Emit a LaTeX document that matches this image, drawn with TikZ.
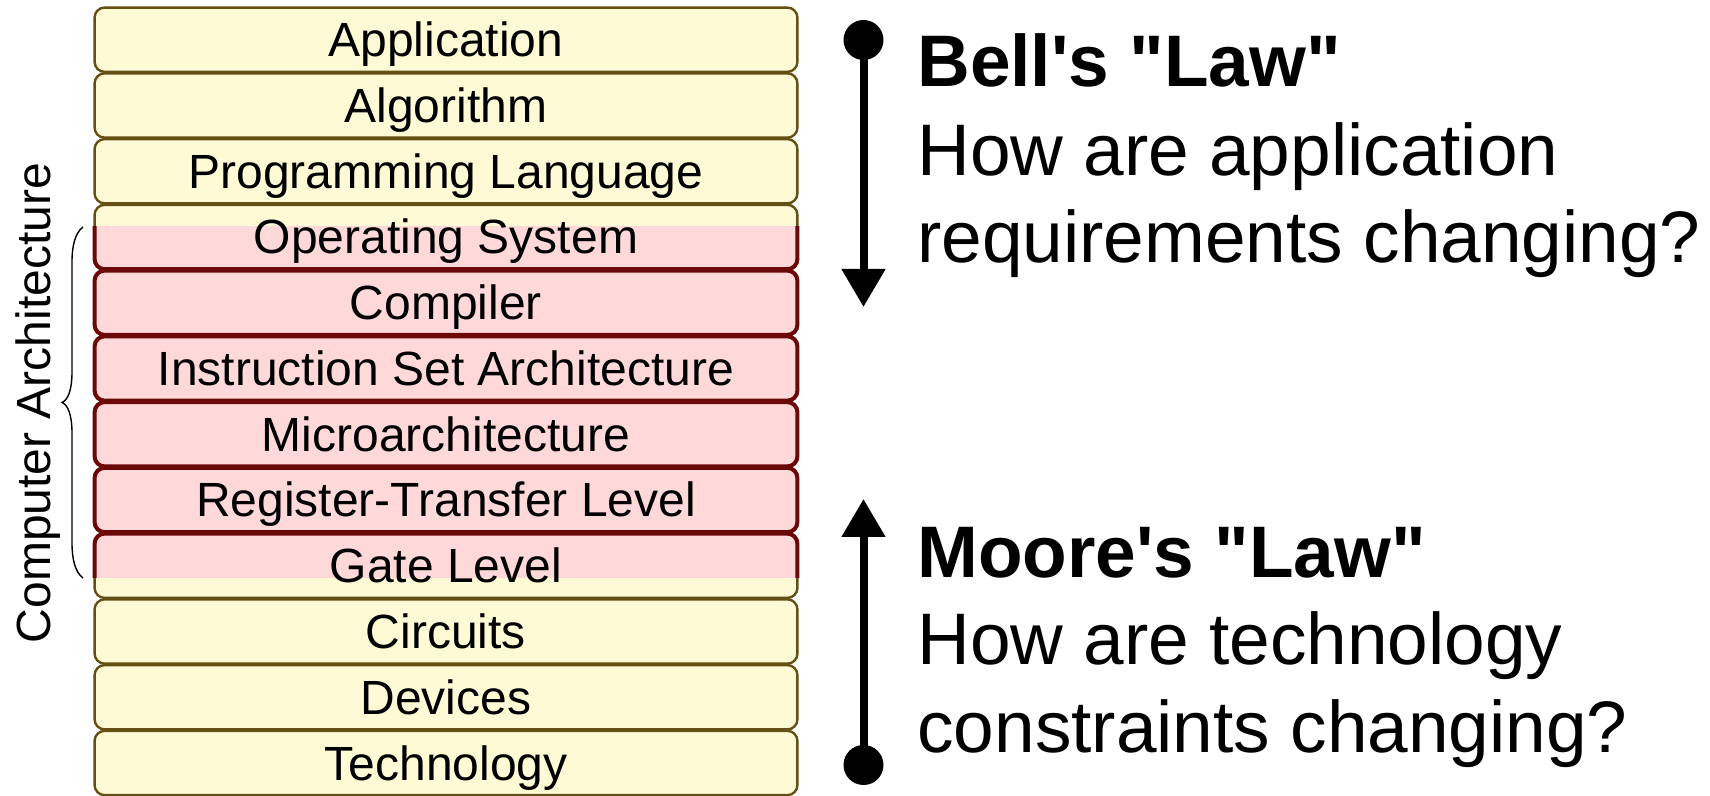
\documentclass[tikz,border=0pt]{standalone}
\usepackage{fontspec}
\setmainfont{Liberation Sans}[Ligatures=TeXOff]
\usetikzlibrary{arrows.meta}
\pgfdeclarelayer{bg}
\pgfsetlayers{bg,main}
\definecolor{ycol}{RGB}{255,250,214}
\definecolor{yline}{RGB}{100,80,20}
\definecolor{pcol}{RGB}{255,217,217}
\definecolor{pline}{RGB}{108,8,8}
\tikzset{
  layer/.style={minimum width=351pt, minimum height=31.75pt, inner sep=0pt,
    text height=17pt, text depth=0pt, font=\fontsize{24pt}{28pt}\selectfont},
  ybox/.style={fill=ycol, draw=yline, line width=1.2pt, rounded corners=5pt},
  pbox/.style={fill=pcol, draw=pline, line width=2pt, rounded corners=5pt},
  dot/.style={circle, fill=black, minimum size=20pt, inner sep=0pt},
  law/.style={line width=4pt, -{Triangle[length=19pt,width=21pt]}},
  lawtext/.style={anchor=base west, inner sep=0pt, font=\fontsize{36.5pt}{44pt}\selectfont},
  bracestyle/.style={line width=0.7pt}
}
\begin{document}
\begin{tikzpicture}[x=0.5pt,y=-0.5pt]
\useasboundingbox (0,0) rectangle (1710,796);
\node[layer] (L0) at (446,39.75) {Application};
\node[layer] (L1) at (446,105.5) {Algorithm};
\node[layer] (L2) at (446,171.25) {Programming Language};
\node[layer] (L3) at (446,237) {Operating System};
\node[layer] (L4) at (446,302.75) {Compiler};
\node[layer] (L5) at (446,368.5) {Instruction Set Architecture};
\node[layer] (L6) at (446,434.25) {Microarchitecture};
\node[layer] (L7) at (446,500) {Register-Transfer Level};
\node[layer] (L8) at (446,565.75) {Gate Level};
\node[layer] (L9) at (446,631.5) {Circuits};
\node[layer] (L10) at (446,697.25) {Devices};
\node[layer] (L11) at (446,763) {Technology};
\begin{pgfonlayer}{bg}
\foreach \i in {0,...,11} \draw[ybox] (L\i.north west) rectangle (L\i.south east);
\begin{scope}
\clip (85,227) rectangle (810,578);
\foreach \i in {3,...,8} \draw[pbox] (L\i.north west) rectangle (L\i.south east);
\end{scope}
\end{pgfonlayer}
% brace
\coordinate (BrT) at (83,227);
\coordinate (BrB) at (83,578);
\draw[bracestyle] (BrT) .. controls (75,233) and (72,246) .. (72,262) -- (72,372)
  .. controls (72,390) and (68,400) .. (62,402.5)
  .. controls (68,405) and (72,415) .. (72,433) -- (72,543)
  .. controls (72,559) and (75,572) .. (BrB);
\node[rotate=90, anchor=base, inner sep=0pt, font=\fontsize{24pt}{28pt}\selectfont] (CA) at (50,403) {Computer Architecture};
% Bell
\node[dot] (B0) at (863.5,40) {};
\coordinate (B1) at (863.5,307);
\draw[law] (B0.center) -- (B1);
\node[lawtext] (Bt1) at (917,87) {\bfseries Bell's "Law"};
\node[lawtext] (Bt2) at (917,175.5) {How are application};
\node[lawtext] (Bt3) at (917,263) {requirements changing?};
% Moore
\node[dot] (M0) at (863.5,765) {};
\coordinate (M1) at (863.5,499);
\draw[law] (M0.center) -- (M1);
\node[lawtext] (Mt1) at (917,578) {\bfseries Moore's "Law"};
\node[lawtext] (Mt2) at (917,665) {How are technology};
\node[lawtext] (Mt3) at (917,753) {constraints changing?};
\end{tikzpicture}
\end{document}
